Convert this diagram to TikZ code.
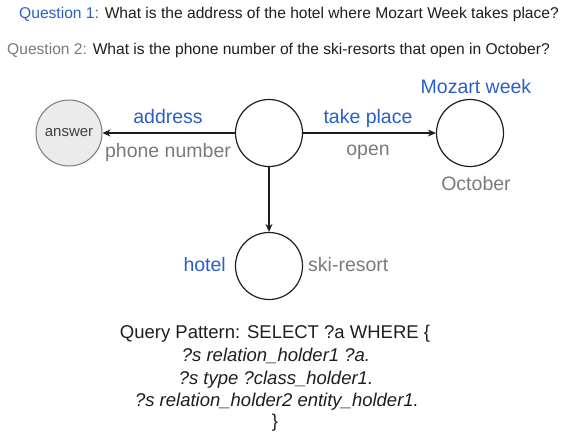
\documentclass[tikz,border=0pt]{standalone}
\usepackage{fontspec}
\setmainfont{Liberation Sans}
\usetikzlibrary{arrows.meta}
\definecolor{qblue}{HTML}{2A5FC4}
\definecolor{lgray}{HTML}{7A7A7A}
\definecolor{ink}{HTML}{1E1E1E}
\begin{document}
\begin{tikzpicture}[x=1pt,y=-1pt,
  ent/.style={circle,draw=ink,line width=1.2pt,minimum size=67pt,inner sep=0pt},
  ans/.style={circle,draw=lgray,fill=black!8,line width=1pt,minimum size=66pt,inner sep=0pt,
              font=\fontsize{15}{18}\selectfont,text=ink!85},
  rel/.style={-{Stealth[length=8pt,width=7pt]},line width=1.1pt,draw=ink},
  lab/.style={inner sep=0pt,font=\fontsize{19.5}{22}\selectfont},
  qtext/.style={inner sep=0pt,anchor=base west,font=\fontsize{15.6}{18}\selectfont,text=ink},
  code/.style={inner sep=0pt,anchor=base,font=\fontsize{18.5}{22}\selectfont,text=ink}]
\useasboundingbox (0,0) rectangle (569,436);

% the two questions
\node[qtext] (q1) at (19,19) {\textcolor{qblue}{Question 1:} What is the address of the hotel where Mozart Week takes place?};
\node[qtext] (q2) at (7,55) {\textcolor{lgray}{Question 2:} What is the phone number of the ski-resorts that open in October?};

% graph
\node[ans] (answer) at (69,133) {answer};
\node[ent] (s) at (269,133) {};
\node[ent] (obj) at (470,133) {};
\node[ent] (cls) at (269,266) {};

\draw[rel] (s) -- (answer);
\draw[rel] (s) -- (obj);
\draw[rel] (s) -- (cls);

% relation and entity labels
\node[lab,text=qblue,anchor=base] (l1) at (168,123) {address};
\node[lab,text=lgray,anchor=base] (l2) at (168,157) {phone number};
\node[lab,text=qblue,anchor=base] (l3) at (368,123) {take place};
\node[lab,text=lgray,anchor=base] (l4) at (368,155) {open};
\node[lab,text=qblue,anchor=base] (l5) at (476,93) {Mozart week};
\node[lab,text=lgray,anchor=base] (l6) at (476,190) {October};
\node[lab,text=qblue,anchor=base east] (l7) at (226,271) {hotel};
\node[lab,text=lgray,anchor=base west] (l8) at (308,271) {ski-resort};

% query pattern
\node[code] (c1) at (275,338) {Query Pattern: SELECT ?a WHERE \{};
\node[code] (c2) at (276,361) {\itshape ?s relation\_holder1 ?a.};
\node[code] (c3) at (276,384) {\itshape ?s type ?class\_holder1.};
\node[code] (c4) at (277,406) {\itshape ?s relation\_holder2 entity\_holder1.};
\node[code] (c5) at (275,427) {\}};
\end{tikzpicture}
\end{document}
